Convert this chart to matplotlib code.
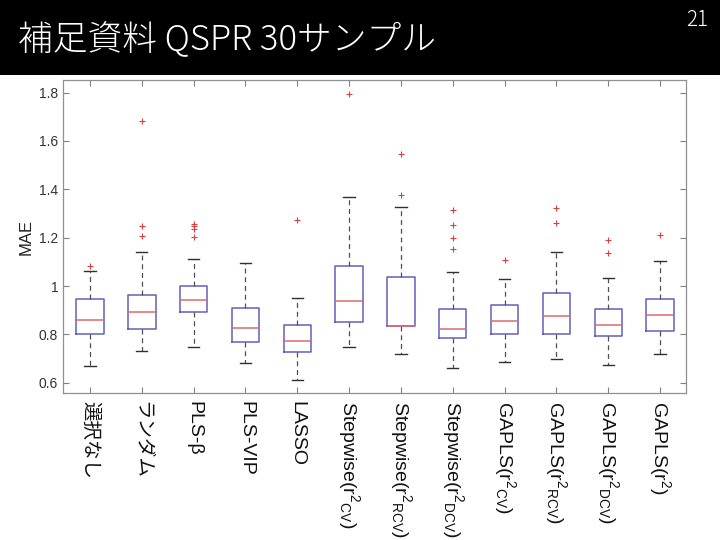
import matplotlib
matplotlib.use("Agg")
import matplotlib.pyplot as plt
from matplotlib.patches import Rectangle
from matplotlib.ticker import FuncFormatter

plt.rcParams['font.family'] = ['Liberation Sans', 'Noto Sans CJK JP', 'DejaVu Sans']
plt.rcParams['mathtext.default'] = 'regular'

# ---- data ----
labels = ['選択なし', 'ランダム', 'PLS-β', 'PLS-VIP', 'LASSO',
          'Stepwise($r^{2}{}_{CV}$)', 'Stepwise($r^{2}{}_{RCV}$)', 'Stepwise($r^{2}{}_{DCV}$)',
          'GAPLS($r^{2}{}_{CV}$)', 'GAPLS($r^{2}{}_{RCV}$)', 'GAPLS($r^{2}{}_{DCV}$)', 'GAPLS($r^{2}$)']
medians = [0.859, 0.893, 0.944, 0.828, 0.775, 0.940, 0.836, 0.824, 0.857, 0.875, 0.838, 0.882]
q1s     = [0.800, 0.823, 0.893, 0.768, 0.728, 0.853, 0.835, 0.786, 0.802, 0.802, 0.795, 0.816]
q3s     = [0.947, 0.965, 1.002, 0.910, 0.839, 1.082, 1.039, 0.905, 0.921, 0.972, 0.905, 0.945]
whis_lo = [0.669, 0.733, 0.750, 0.683, 0.612, 0.750, 0.721, 0.662, 0.685, 0.699, 0.672, 0.720]
whis_hi = [1.064, 1.141, 1.112, 1.095, 0.950, 1.368, 1.328, 1.058, 1.029, 1.141, 1.033, 1.102]
outliers = [[1.084],
            [1.683, 1.249, 1.208],
            [1.256, 1.247, 1.237, 1.205],
            [],
            [1.274],
            [1.793],
            [1.545, 1.378],
            [1.314, 1.254, 1.199, 1.153],
            [1.106],
            [1.322, 1.261],
            [1.189, 1.138],
            [1.210]]
yticks = [0.6, 0.8, 1.0, 1.2, 1.4, 1.6, 1.8]
title = '補足資料 QSPR 30サンプル'
page = '21'

# ---- figure ----
fig = plt.figure(figsize=(7.2, 5.4), dpi=100)
fig.patch.set_facecolor('white')
fig.patches.append(Rectangle((0, 1 - 75 / 540), 1, 75 / 540, transform=fig.transFigure,
                             facecolor='black', edgecolor='none', zorder=0))
fig.text(18 / 720, 1 - 40 / 540, title, color='white', fontsize=25, fontweight='light',
         family=['Noto Sans CJK JP', 'DejaVu Sans'], va='center', ha='left')
fig.text(708 / 720, 1 - 20 / 540, page, color='white', fontsize=15, fontweight='light',
         family=['Noto Sans CJK JP', 'DejaVu Sans'], va='center', ha='right')

ax = fig.add_axes([63 / 720, 1 - 393 / 540, 623 / 720, 313 / 540])

stats = []
for i in range(len(labels)):
    stats.append(dict(med=medians[i], q1=q1s[i], q3=q3s[i], whislo=whis_lo[i],
                      whishi=whis_hi[i], fliers=outliers[i], label=labels[i]))

ax.bxp(stats, positions=range(1, len(labels) + 1), widths=0.53, capwidths=0.22,
       boxprops=dict(color='#6060c0', linewidth=1.1),
       medianprops=dict(color='#e06a6a', linewidth=1.1),
       whiskerprops=dict(color='#505050', linewidth=0.9, linestyle=(0, (4, 3))),
       capprops=dict(color='#303030', linewidth=1.0),
       flierprops=dict(marker='+', markeredgecolor='#d84040', markersize=4, markeredgewidth=0.8))

ax.set_xlim(0.48, 12.5)
ax.set_ylim(0.558, 1.852)
ax.set_yticks(yticks)
ax.yaxis.set_major_formatter(FuncFormatter(lambda v, p: '1' if abs(v - 1) < 1e-9 else f'{v:.1f}'))
ax.set_xticks(range(1, len(labels) + 1))
ax.set_xticklabels(labels, rotation=270, va='top', ha='center', fontsize=14, color='#111111')
ax.tick_params(axis='y', labelsize=10, labelcolor='#333333')
ax.tick_params(direction='in', length=4, color='#808080', top=True, right=True, width=0.8)
ax.tick_params(axis='x', pad=6)
for s in ax.spines.values():
    s.set_color('#909090')
    s.set_linewidth(0.9)
ax.set_ylabel('MAE', fontsize=12, color='#222222', labelpad=4)

fig.savefig('out.png', dpi=100)
